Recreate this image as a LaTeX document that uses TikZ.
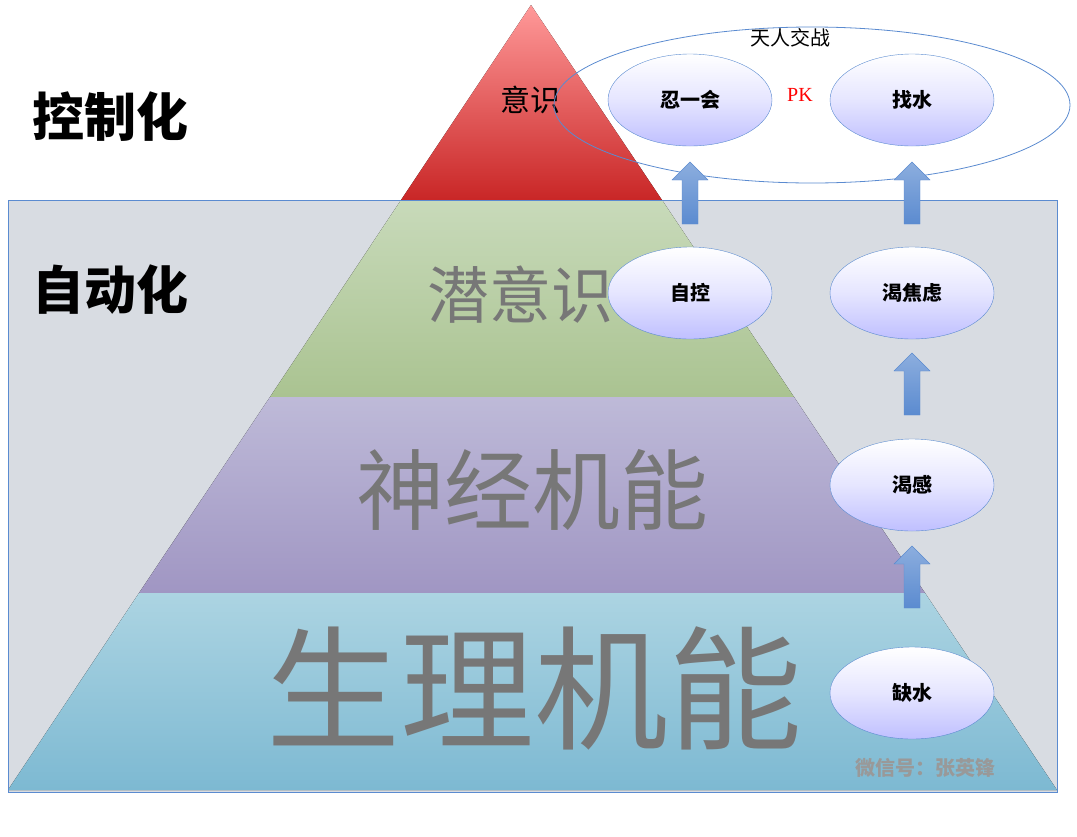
\documentclass[tikz,border=0pt]{standalone}
\usepackage{fontspec}
\setmainfont{Noto Sans CJK SC}
\newfontfamily\pkfont{Liberation Serif}
\usetikzlibrary{shapes.arrows,shapes.geometric}
\definecolor{frameblue}{HTML}{5B8BD0}
\definecolor{boxgray}{HTML}{D8DCE2}
\definecolor{txtgray}{HTML}{777777}
\tikzset{
  state/.style={draw=frameblue, ellipse, minimum width=164pt, minimum height=92pt, top color=white, bottom color=blue!25, middle color=blue!10, font=\fontsize{20}{20}\selectfont\bfseries},
  uparrow/.style={single arrow, shape border rotate=90, draw=frameblue, top color=frameblue!70, bottom color=frameblue, minimum width=36pt, single arrow head extend=4pt, minimum height=62pt, inner sep=3pt},
  layer/.style={text=txtgray}
}
\begin{document}
\begin{tikzpicture}[x=1pt,y=-1pt]
\useasboundingbox (0,0) rectangle (1077,836);
\fill[boxgray] (8,200) rectangle (1057,792);
% pyramid layers
\fill[top color=red!40, bottom color=red!75!black!85] (531,5) -- (662,200) -- (401,200) -- cycle;
\fill[top color={rgb,255:red,200;green,218;blue,186}, bottom color={rgb,255:red,170;green,195;blue,145}] (401,200) -- (662,200) -- (794,397) -- (270,397) -- cycle;
\fill[top color={rgb,255:red,190;green,186;blue,216}, bottom color={rgb,255:red,160;green,150;blue,195}] (270,397) -- (794,397) -- (925,593) -- (139,593) -- cycle;
\fill[top color={rgb,255:red,172;green,212;blue,226}, bottom color={rgb,255:red,125;green,185;blue,210}] (139,593) -- (925,593) -- (1057,790) -- (8,790) -- cycle;
\draw[frameblue] (8,200) rectangle (1057,792);
% labels
\node (ctrl) at (110,117) {\fontsize{52}{52}\selectfont\bfseries 控制化};
\node (auto) at (110,290) {\fontsize{52}{52}\selectfont\bfseries 自动化};
\node (yishi) at (530,100) {\fontsize{30}{30}\selectfont 意识};
\node[layer] (qian) at (520,295) {\fontsize{62}{62}\selectfont 潜意识};
\node[layer] (shenjing) at (532,490) {\fontsize{88}{88}\selectfont 神经机能};
\node[layer] (shengli) at (534,688) {\fontsize{134}{134}\selectfont 生理机能};
\node[text=gray!80] (wx) at (925,768) {\fontsize{20}{20}\selectfont\bfseries 微信号：张英锋};
% battle
\draw[frameblue, thick] (812,105) ellipse [x radius=258, y radius=78];
\node (battle) at (790,38) {\fontsize{20}{20}\selectfont 天人交战};
\node[text=red, font=\fontsize{20}{20}\selectfont\pkfont] (pk) at (800,95) {PK};
% states
\node[state] (ren) at (690,100) {忍一会};
\node[state] (zhao) at (912,100) {找水};
\node[state] (zikong) at (690,293) {自控};
\node[state] (jiaolv) at (912,293) {渴焦虑};
\node[state] (kegan) at (912,485) {渴感};
\node[state] (queshui) at (912,693) {缺水};
% arrows
\node[uparrow] (a1) at (690,197) {};
\node[uparrow] (a2) at (912,197) {};
\node[uparrow] (a3) at (912,388) {};
\node[uparrow] (a4) at (912,581) {};
\end{tikzpicture}
\end{document}
